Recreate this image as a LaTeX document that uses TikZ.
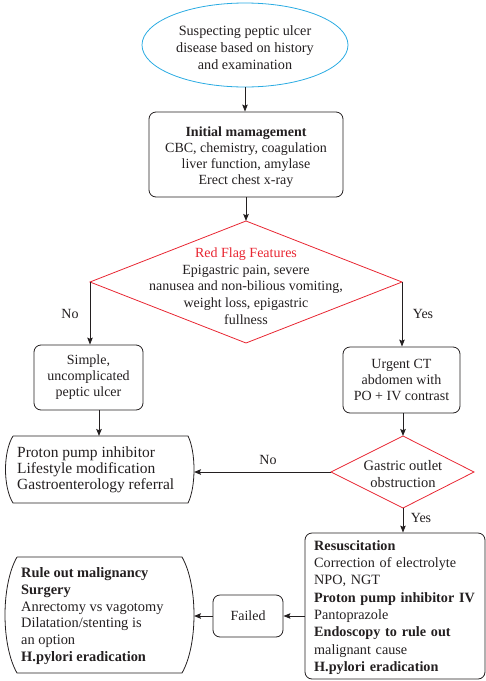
\documentclass[tikz,border=0pt]{standalone}
\usepackage{fontspec}
\setmainfont{Liberation Serif}
\usetikzlibrary{shapes.geometric,arrows.meta}
\definecolor{flagred}{RGB}{232,38,50}
\definecolor{startblue}{RGB}{41,171,226}
\definecolor{ink}{RGB}{35,31,32}
\begin{document}
\begin{tikzpicture}[x=1pt,y=-1pt,
  font=\fontsize{14}{16}\selectfont, color=ink,
  box/.style={draw=ink, rounded corners=7pt, line width=0.8pt, align=center, inner sep=0pt},
  arr/.style={-{Stealth[length=7pt,width=5.5pt,inset=1.2pt]}, line width=1pt, draw=ink},
  outline/.style={draw=ink, line width=0.8pt},
  lbl/.style={inner sep=0pt}]
\useasboundingbox (0,0) rectangle (486,681);

% start ellipse
\node[ellipse, draw=startblue, line width=0.8pt, minimum width=206pt, minimum height=84pt, inner sep=0pt] (start) at (245,45) {};
\node[align=center, inner sep=0pt, font=\fontsize{14.2}{17}\selectfont] (starttxt) at (245,48) {Suspecting peptic ulcer\\disease based on history\\and examination};

% initial management
\node[box, minimum width=194pt, minimum height=85pt] (init) at (246,154.5) {};
\node[align=center, inner sep=0pt] (inittxt) at (246,157)
  {\textbf{Initial mamagement}\\CBC, chemistry, coagulation\\liver function, amylase\\Erect chest x-ray};

% red flag diamond
\coordinate (rftop) at (246,221);
\coordinate (rfleft) at (90,282);
\coordinate (rfright) at (402,282);
\coordinate (rfbottom) at (246,343);
\draw[draw=flagred, line width=0.8pt] (rftop) -- (rfright) -- (rfbottom) -- (rfleft) -- cycle;
\node[align=center, inner sep=0pt, font=\fontsize{14}{16.7}\selectfont] (rftxt) at (246,286)
  {\textcolor{flagred}{Red Flag Features}\\Epigastric pain, severe\\nanusea and non-bilious vomiting,\\weight loss, epigastric\\fullness};

% simple
\node[box, minimum width=109pt, minimum height=65pt] (simple) at (88.5,377.5)
  {Simple,\\uncomplicated\\peptic ulcer};

% CT
\node[box, minimum width=117pt, minimum height=66pt] (ct) at (401.5,380)
  {Urgent CT\\abdomen with\\PO + IV contrast};

% PPI box (bulging sides)
\coordinate (ppitl) at (13,436);
\coordinate (ppitr) at (188,436);
\coordinate (ppibl) at (13,503);
\coordinate (ppibr) at (188,503);
\coordinate (ppiright) at (194,470);
\coordinate (ppitop) at (99,436);
\draw[outline] (ppitl) -- (ppitr) .. controls (196,452) and (196,487) .. (ppibr) -- (ppibl) .. controls (3,487) and (3,452) .. (ppitl);
\node[align=left, anchor=west, inner sep=0pt, font=\fontsize{15.5}{15.8}\selectfont] (ppitxt) at (17,469.5)
  {Proton pump inhibitor\\Lifestyle modification\\Gastroenterology referral};

% gastric outlet diamond
\coordinate (gotop) at (403,436);
\coordinate (goleft) at (331,472);
\coordinate (goright) at (474,472);
\coordinate (gobottom) at (403,508);
\draw[draw=flagred, line width=0.8pt] (gotop) -- (goright) -- (gobottom) -- (goleft) -- cycle;
\node[align=center, inner sep=0pt, font=\fontsize{14.5}{17.5}\selectfont] (gotxt) at (403,474)
  {Gastric outlet\\obstruction};

% resuscitation
\node[box, minimum width=180pt, minimum height=146pt] (res) at (395,606) {};
\node[align=left, anchor=west, text width=166pt, inner sep=0pt,
  font=\fontsize{14.2}{17.3}\selectfont] (restxt) at (314,607.5)
  {\textbf{Resuscitation}\\Correction of electrolyte\\NPO, NGT\\\textbf{Proton pump inhibitor IV}\\Pantoprazole\\\textbf{Endoscopy to rule out}\\malignant cause\\\textbf{H.pylori eradication}};

% failed
\node[box, minimum width=70pt, minimum height=42pt] (failed) at (248,616) {Failed};

% rule out box (bulging sides)
\coordinate (rutl) at (17,557);
\coordinate (rutr) at (182,557);
\coordinate (rubl) at (17,673);
\coordinate (rubr) at (182,673);
\coordinate (ruright) at (194,616);
\draw[outline] (rutl) -- (rutr) .. controls (198,585) and (198,645) .. (rubr) -- (rubl) .. controls (1,645) and (1,585) .. (rutl);
\node[align=left, anchor=west, inner sep=0pt, font=\fontsize{14.4}{16.8}\selectfont] (rutxt) at (21,616)
  {\textbf{Rule out malignancy}\\\textbf{Surgery}\\Anrectomy vs vagotomy\\Dilatation/stenting is\\an option\\\textbf{H.pylori eradication}};

% connectors
\draw[arr] (start.south) -- (start.south |- init.north);
\draw[arr] (rftop |- init.south) -- (rftop);
\draw[arr] (rfleft) -- (rfleft |- simple.north);
\draw[arr] (rfright) -- (rfright |- ct.north);
\draw[arr] (ppitop |- simple.south) -- (ppitop);
\draw[arr] (gotop |- ct.south) -- (gotop);
\draw[arr] (goleft) -- (ppiright |- goleft);
\draw[arr] (gobottom) -- (gobottom |- res.north);
\draw[arr] (res.west |- failed.east) -- (failed.east);
\draw[arr] (failed.west) -- (ruright |- failed.west);

% labels
\node[lbl] (lno1) at (70,314) {No};
\node[lbl] (lyes1) at (423,314) {Yes};
\node[lbl] (lno2) at (268,460) {No};
\node[lbl] (lyes2) at (421,518) {Yes};
\end{tikzpicture}
\end{document}
